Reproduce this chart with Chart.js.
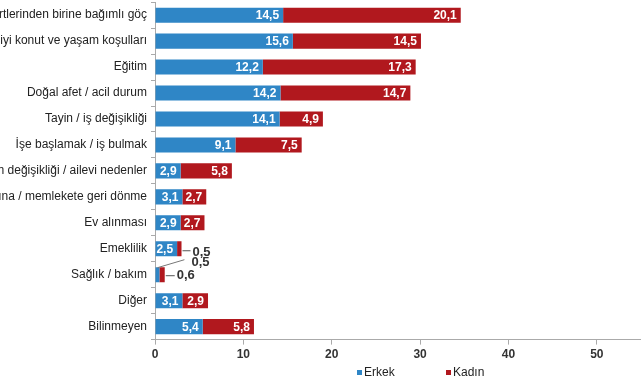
<!DOCTYPE html>
<html>
<head>
<meta charset="utf-8">
<script src="https://cdn.jsdelivr.net/npm/chart.js@4"></script>
<style>
  html, body { margin: 0; padding: 0; background: #fff; overflow: hidden; }
  #wrap { width: 641px; height: 380px; overflow: hidden; position: relative; }
  #chart { position: absolute; left: 0; top: -9px; }
</style>
</head>
<body>
<div id="wrap"><canvas id="chart" width="641" height="389"></canvas></div>
<script>
// Göç nedenleri (%)
const kategoriler = [
  'Hanehalkı fertlerinden birine bağımlı göç',
  'Daha iyi konut ve yaşam koşulları',
  'Eğitim',
  'Doğal afet / acil durum',
  'Tayin / iş değişikliği',
  'İşe başlamak / iş bulmak',
  'Medeni durum değişikliği / ailevi nedenler',
  'Aile yanına / memlekete geri dönme',
  'Ev alınması',
  'Emeklilik',
  'Sağlık / bakım',
  'Diğer',
  'Bilinmeyen'
];
const erkek = [14.5, 15.6, 12.2, 14.2, 14.1, 9.1, 2.9, 3.1, 2.9, 2.5, 0.5, 3.1, 5.4];
const kadin = [20.1, 14.5, 17.3, 14.7, 4.9, 7.5, 5.8, 2.7, 2.7, 0.5, 0.6, 2.9, 5.8];
const xTicks = [0, 10, 20, 30, 40, 50];

const MAVI = '#2f86c6';
const KIRMIZI = '#b1181e';
const fmt = v => v.toFixed(1).replace('.', ',');

// Çubuk üzeri değer etiketleri
const degerEtiketleri = {
  id: 'degerEtiketleri',
  afterDatasetsDraw(chart) {
    const ctx = chart.ctx;
    ctx.save();
    chart.data.datasets.forEach((ds, di) => {
      const meta = chart.getDatasetMeta(di);
      meta.data.forEach((bar, i) => {
        const v = ds.data[i];
        if (v < 1) return;
        ctx.font = 'bold 12px "Liberation Sans", Arial, sans-serif';
        ctx.fillStyle = '#fff';
        ctx.textAlign = 'right';
        ctx.textBaseline = 'middle';
        ctx.fillText(fmt(v), bar.x - 4, bar.y + 1);
      });
    });
    // küçük değerler: dışarıda, çizgili
    ctx.font = 'bold 13px "Liberation Sans", Arial, sans-serif';
    ctx.fillStyle = '#333';
    ctx.strokeStyle = '#555';
    ctx.lineWidth = 1;
    ctx.textAlign = 'left';
    ctx.textBaseline = 'middle';
    const mE = chart.getDatasetMeta(0).data;
    const mK = chart.getDatasetMeta(1).data;
    // Emeklilik kadın
    let b = mK[9];
    ctx.beginPath(); ctx.moveTo(b.x + 1, b.y + 2); ctx.lineTo(b.x + 9, b.y + 2); ctx.stroke();
    ctx.fillText(fmt(kadin[9]), b.x + 11, b.y + 4);
    // Sağlık erkek
    b = mE[10];
    ctx.strokeStyle = '#777';
    ctx.beginPath(); ctx.moveTo(b.x - 2, b.y - 7); ctx.lineTo(b.x + 25, b.y - 15); ctx.stroke();
    ctx.fillText(fmt(erkek[10]), b.x + 32, b.y - 12);
    // Sağlık kadın
    b = mK[10];
    ctx.strokeStyle = '#555';
    ctx.beginPath(); ctx.moveTo(b.x + 1, b.y + 1); ctx.lineTo(b.x + 10, b.y + 1); ctx.stroke();
    ctx.fillText(fmt(kadin[10]), b.x + 12, b.y + 1);
    ctx.restore();
  }
};

// Alt lejant
const lejant = {
  id: 'lejant',
  afterDraw(chart) {
    const ctx = chart.ctx;
    ctx.save();
    ctx.font = '12px "Liberation Sans", Arial, sans-serif';
    ctx.textBaseline = 'middle';
    ctx.textAlign = 'left';
    const y = 382;
    [[MAVI, 'Erkek', 357], [KIRMIZI, 'Kadın', 446]].forEach(([c, t, x]) => {
      ctx.fillStyle = c;
      ctx.fillRect(x, y - 3, 5, 5);
      ctx.fillStyle = '#222';
      ctx.fillText(t, x + 7, y);
    });
    ctx.restore();
  }
};

new Chart(document.getElementById('chart'), {
  type: 'bar',
  data: {
    labels: kategoriler,
    datasets: [
      { label: 'Erkek', data: erkek, backgroundColor: MAVI },
      { label: 'Kadın', data: kadin, backgroundColor: KIRMIZI }
    ]
  },
  options: {
    indexAxis: 'y',
    responsive: false,
    animation: false,
    barPercentage: 0.58,
    categoryPercentage: 1,
    layout: { padding: { top: 0, right: 0, bottom: 15, left: 0 } },
    plugins: { legend: { display: false }, tooltip: { enabled: false } },
    scales: {
      x: {
        stacked: true,
        min: 0,
        max: 55,
        afterBuildTicks: s => { s.ticks = xTicks.map(v => ({ value: v })); },
        grid: { drawOnChartArea: false, tickLength: 5, color: '#aaa' },
        border: { color: '#aaa' },
        ticks: {
          color: '#333',
          padding: 3,
          font: { family: '"Liberation Sans", Arial, sans-serif', size: 12, weight: 'bold' }
        }
      },
      y: {
        stacked: true,
        afterFit: s => { s.width = 155; },
        grid: { drawOnChartArea: false, tickLength: 4, color: '#aaa' },
        border: { color: '#aaa' },
        ticks: {
          color: '#222',
          padding: 4,
          autoSkip: false,
          font: { family: '"Liberation Sans", Arial, sans-serif', size: 12 }
        }
      }
    }
  },
  plugins: [degerEtiketleri, lejant]
});
</script>
</body>
</html>
